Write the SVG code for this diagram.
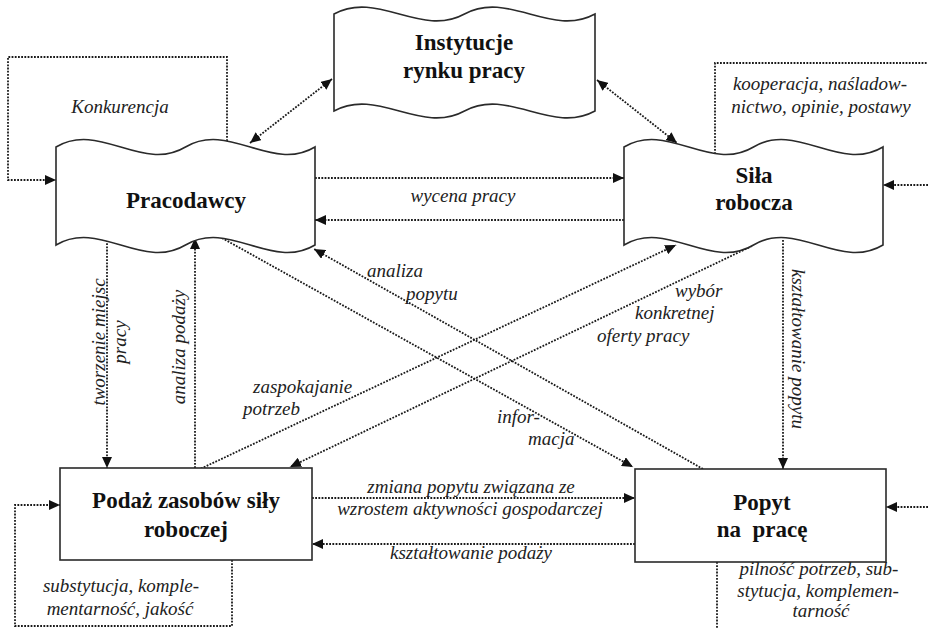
<svg xmlns="http://www.w3.org/2000/svg" width="928" height="628" viewBox="0 0 928 628">
<style>
.box{fill:#fff;stroke:#2a2a2a;stroke-width:1.6}
.b{font-family:"Liberation Serif","Times New Roman",serif;font-weight:bold;font-size:23px;fill:#111;text-anchor:middle;white-space:pre}
.i{font-family:"Liberation Serif","Times New Roman",serif;font-style:italic;font-size:19px;fill:#222}
.m{text-anchor:middle}
.c{fill:none;stroke:#1a1a1a;stroke-width:1.8;stroke-dasharray:1.8 1.4}
</style>
<defs>
<marker id="ah" markerUnits="userSpaceOnUse" markerWidth="11" markerHeight="10" viewBox="0 0 11 10" refX="11" refY="5" orient="auto-start-reverse">
<path d="M0,0 L11,5 L0,10 z" fill="#111"/>
</marker>
</defs>
<rect width="928" height="628" fill="#fff"/>

<g id="connectors">
<path class="c" d="M227,141 V57 H8 V180 H56" marker-end="url(#ah)"/>
<path class="c" d="M332,79 L250,143" marker-start="url(#ah)" marker-end="url(#ah)"/>
<path class="c" d="M597,80 L677,143" marker-start="url(#ah)" marker-end="url(#ah)"/>
<path class="c" d="M315,178 H624" marker-end="url(#ah)"/>
<path class="c" d="M624,220 H315" marker-end="url(#ah)"/>
<path class="c" d="M715,154 V63 H928"/>
<path class="c" d="M928,185 H883" marker-end="url(#ah)"/>
<path class="c" d="M107,240 V468" marker-end="url(#ah)"/>
<path class="c" d="M195,468 V238" marker-end="url(#ah)"/>
<path class="c" d="M198,470 L676,245" marker-end="url(#ah)"/>
<path class="c" d="M752,246 L290,467" marker-end="url(#ah)"/>
<path class="c" d="M222,238 L633,467" marker-end="url(#ah)"/>
<path class="c" d="M703,469 L314,249" marker-end="url(#ah)"/>
<path class="c" d="M783,240 V469" marker-end="url(#ah)"/>
<path class="c" d="M312,498 H635" marker-end="url(#ah)"/>
<path class="c" d="M635,544 H312" marker-end="url(#ah)"/>
<path class="c" d="M232,560 V626 H15 V505 H60" marker-end="url(#ah)"/>
<path class="c" d="M717,562 V628"/>
<path class="c" d="M928,507 H886" marker-end="url(#ah)"/>
</g>

<g id="labels">
<text class="i m" x="120" y="113">Konkurencja</text>
<text class="i m" x="463" y="202">wycena pracy</text>
<text class="i m" x="820" y="90">kooperacja, naśladow-</text>
<text class="i m" x="821" y="113">nictwo, opinie, postawy</text>
<text class="i m" transform="translate(105,342) rotate(-90)">tworzenie miejsc</text>
<text class="i m" transform="translate(126,342) rotate(-90)">pracy</text>
<text class="i m" transform="translate(185,347) rotate(-90)">analiza podaży</text>
<text class="i m" transform="translate(792,349) rotate(90)">kształtowanie popytu</text>
<text class="i" x="367" y="277">analiza</text>
<text class="i" x="406" y="300">popytu</text>
<text class="i" x="675" y="297">wybór</text>
<text class="i" x="635" y="319">konkretnej</text>
<text class="i" x="597" y="342">oferty pracy</text>
<text class="i" x="253" y="393">zaspokajanie</text>
<text class="i" x="243" y="415">potrzeb</text>
<text class="i" x="497" y="423">infor-</text>
<text class="i" x="528" y="445">macja</text>
<text class="i m" x="471" y="493">zmiana popytu związana ze</text>
<text class="i m" x="470" y="515">wzrostem aktywności gospodarczej</text>
<text class="i m" x="471" y="559">kształtowanie podaży</text>
<text class="i m" x="121" y="592">substytucja, komple-</text>
<text class="i m" x="120" y="615">mentarność, jakość</text>
<text class="i m" x="819" y="575">pilność potrzeb, sub-</text>
<text class="i m" x="818" y="597">stytucja, komplemen-</text>
<text class="i m" x="821" y="617">tarność</text>
</g>

<g id="instytucje">
<path class="box" d="M334,14 C377.5,-10 421,38 464.5,14 C508,-10 551.5,38 595,14 L595,111 C551.5,135 508,87 464.5,111 C421,135 377.5,87 334,111 Z"/>
<text class="b" x="464" y="50">Instytucje</text>
<text class="b" x="464" y="78">rynku pracy</text>
</g>

<g id="pracodawcy">
<path class="box" d="M56,147 C99.2,121 142.3,173 185.5,147 C228.7,121 271.8,173 315,147 L315,245 C271.8,271 228.7,219 185.5,245 C142.3,271 99.2,219 56,245 Z"/>
<text class="b" x="186" y="208">Pracodawcy</text>
</g>

<g id="sila">
<path class="box" d="M624,147 C667.2,121 710.3,173 753.5,147 C796.7,121 839.8,173 883,147 L883,245 C839.8,271 796.7,219 753.5,245 C710.3,271 667.2,219 624,245 Z"/>
<text class="b" x="754" y="183">Siła</text>
<text class="b" x="754" y="210">robocza</text>
</g>

<g id="podaz">
<rect class="box" x="60" y="468" width="252" height="92"/>
<text class="b" x="186" y="508">Podaż zasobów siły</text>
<text class="b" x="186" y="537">roboczej</text>
</g>

<g id="popyt">
<rect class="box" x="635" y="469" width="251" height="93"/>
<text class="b" x="762" y="510">Popyt</text>
<text class="b" x="762" y="537">na  pracę</text>
</g>
</svg>
